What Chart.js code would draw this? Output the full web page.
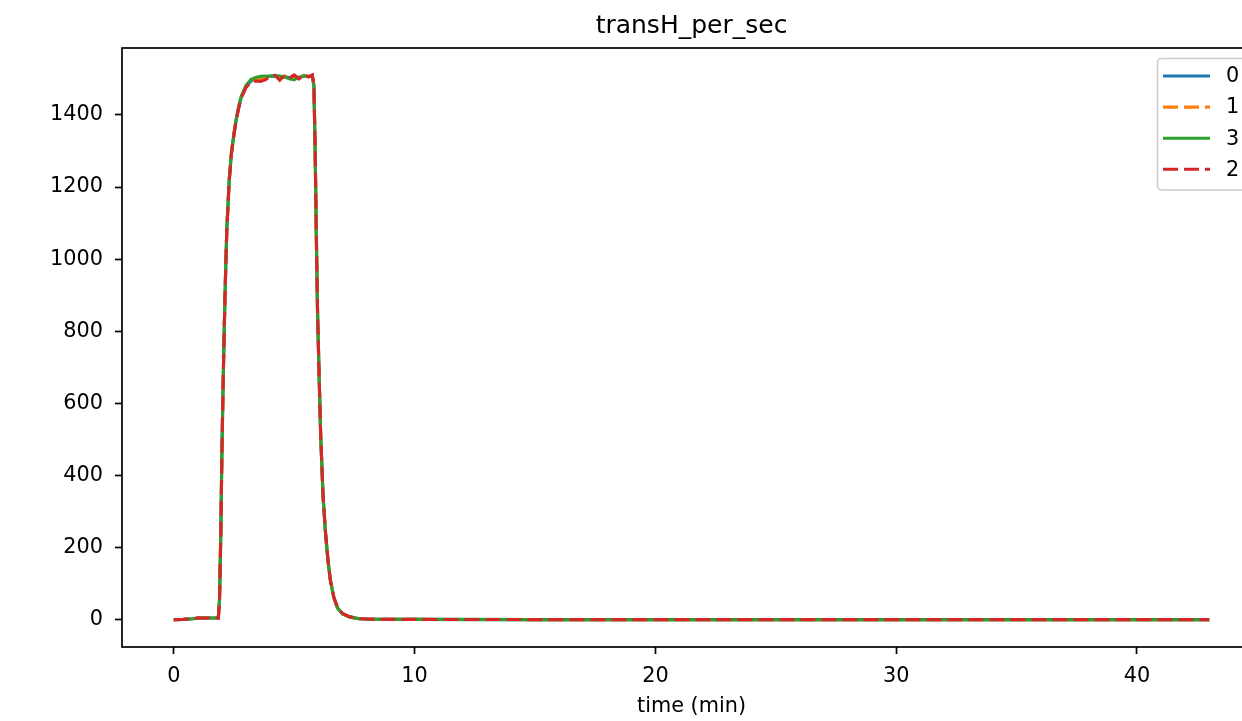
<!DOCTYPE html>
<html>
<head>
<meta charset="utf-8">
<script src="https://cdn.jsdelivr.net/npm/chart.js@4.4.0/dist/chart.umd.min.js"></script>
<style>
  html, body { margin: 0; padding: 0; background: #fff; overflow: hidden; }
  #wrap { width: 1381px; height: 721px; position: relative; }
</style>
</head>
<body>
<div id="wrap"><canvas id="chart"></canvas></div>
<script>
// time axis (minutes) shared by all runs
const timeMin = [0, 0.4, 0.8, 1.0, 1.5, 1.85,
  1.9, 1.95, 2.0, 2.05, 2.1, 2.15, 2.2,
  2.3, 2.4, 2.5, 2.6, 2.7, 2.8,
  3.0, 3.2, 3.4, 3.6, 3.8, 4.0,
  4.2, 4.4, 4.6, 4.8, 5.0, 5.2,
  5.4, 5.6, 5.75,
  5.82, 5.87, 5.92, 5.97, 6.03, 6.1,
  6.2, 6.3, 6.4, 6.5, 6.65, 6.8,
  7.0, 7.3, 7.7, 8.0,
  9, 10, 15, 20, 30, 43];

const run0 = [0, 1, 3, 5, 5, 5,
  58, 228, 468, 658, 818, 958, 1078,
  1216, 1296, 1346, 1389, 1421, 1448,
  1478, 1494, 1500, 1503, 1505, 1507,
  1508, 1503, 1507, 1503, 1508, 1503,
  1509, 1506, 1509,
  1482, 1305, 1065, 855, 692, 512,
  342, 242, 166, 111, 61, 33,
  17, 8, 3, 2,
  1, 1, 0.5, 0.5, 0.5, 0.5];

const run1 = [0, 1, 3, 5, 5, 5,
  57, 227, 467, 657, 817, 957, 1077,
  1217, 1297, 1347, 1390, 1422, 1449,
  1479, 1495, 1499, 1501, 1504, 1507,
  1509, 1500, 1508, 1503, 1509, 1502,
  1510, 1506, 1510,
  1483, 1307, 1067, 857, 693, 513,
  343, 243, 167, 111, 61, 34,
  17, 8, 3, 2,
  1, 1, 0.5, 0.5, 0.5, 0.5];

const run3 = [0, 1, 3, 5, 5, 5,
  60, 230, 470, 660, 820, 960, 1080,
  1220, 1300, 1350, 1392, 1425, 1452,
  1482, 1498, 1504, 1507, 1508, 1508,
  1509, 1508, 1505, 1500, 1497, 1504,
  1508, 1507, 1508,
  1480, 1300, 1060, 850, 690, 510,
  340, 240, 165, 110, 60, 33,
  17, 8, 3, 2,
  1, 1, 0.5, 0.5, 0.5, 0.5];

const run2 = [0, 1, 3, 5, 5, 5,
  55, 225, 465, 655, 815, 955, 1075,
  1215, 1295, 1345, 1388, 1420, 1447,
  1476, 1492, 1494, 1493, 1497, 1506,
  1510, 1496, 1510, 1502, 1511, 1500,
  1512, 1505, 1511,
  1485, 1310, 1070, 860, 695, 515,
  345, 245, 168, 112, 62, 34,
  18, 8, 3, 2,
  1, 1, 0.5, 0.5, 0.5, 0.5];

const xTicks = [0, 10, 20, 30, 40];
const yTicks = [0, 200, 400, 600, 800, 1000, 1200, 1400];

const FONT = 'DejaVu Sans';
const pts = arr => timeMin.map((t, i) => ({ x: t, y: arr[i] }));
const DASH = [15, 6];

// legend order as in the figure; 'order' controls draw stacking (red on top)
const datasets = [
  { label: '0', data: pts(run0), borderColor: '#1f77b4', borderDash: [], order: 4 },
  { label: '1', data: pts(run1), borderColor: '#ff7f0e', borderDash: DASH, order: 3 },
  { label: '3', data: pts(run3), borderColor: '#2ca02c', borderDash: [], order: 2 },
  { label: '2', data: pts(run2), borderColor: '#d62728', borderDash: DASH, order: 1 }
].map(d => ({ ...d, borderWidth: 3.1, pointRadius: 0, tension: 0, fill: false }));

// axes frame drawn over the lines like matplotlib spines
const frame = {
  id: 'frame',
  afterDatasetsDraw(chart) {
    const { ctx, chartArea: a } = chart;
    ctx.save();
    ctx.strokeStyle = '#000';
    ctx.lineWidth = 1.7;
    ctx.strokeRect(a.left, a.top, a.right - a.left, a.bottom - a.top);
    ctx.restore();
  }
};

// matplotlib style legend in the upper right corner
const mplLegend = {
  id: 'mplLegend',
  afterDraw(chart) {
    const { ctx } = chart;
    const x0 = 1157.5, y0 = 58.5, w = 93, h = 131.5, r = 4;
    ctx.save();
    ctx.beginPath();
    ctx.roundRect(x0, y0, w, h, r);
    ctx.fillStyle = 'rgba(255,255,255,0.8)';
    ctx.fill();
    ctx.strokeStyle = '#cccccc';
    ctx.lineWidth = 1.5;
    ctx.stroke();
    ctx.font = `20.8px "${FONT}"`;
    ctx.textBaseline = 'middle';
    ctx.textAlign = 'left';
    chart.data.datasets.forEach((d, i) => {
      const y = 76 + i * 31.1;
      ctx.beginPath();
      ctx.setLineDash(d.borderDash);
      ctx.strokeStyle = d.borderColor;
      ctx.lineWidth = 3.1;
      ctx.moveTo(1163, y);
      ctx.lineTo(1210, y);
      ctx.stroke();
      ctx.setLineDash([]);
      ctx.fillStyle = '#000';
      ctx.fillText(d.label, 1226, y + 1);
    });
    ctx.restore();
  }
};

new Chart(document.getElementById('chart'), {
  type: 'line',
  data: { datasets },
  plugins: [frame, mplLegend],
  options: {
    responsive: true,
    maintainAspectRatio: false,
    animation: false,
    layout: { padding: { left: 0, right: 120, top: 0, bottom: 0 } },
    plugins: {
      legend: { display: false },
      tooltip: { enabled: false },
      title: {
        display: true,
        fullSize: false,
        text: 'transH_per_sec',
        color: '#000',
        font: { family: FONT, size: 25, weight: 'normal' },
        padding: { top: 11, bottom: 7 }
      }
    },
    scales: {
      x: {
        type: 'linear',
        min: -2.15,
        max: 45.15,
        afterBuildTicks: s => { s.ticks = xTicks.map(v => ({ value: v })); },
        afterFit: s => { s.height = 74; },
        border: { display: false },
        grid: { drawOnChartArea: false, drawTicks: true, tickLength: 7, tickWidth: 1.7, tickColor: '#000' },
        ticks: { color: '#000', font: { family: FONT, size: 20.8 }, padding: 10, maxRotation: 0, callback: v => String(v) },
        title: {
          display: true,
          text: 'time (min)',
          color: '#000',
          font: { family: FONT, size: 20.8 },
          padding: { top: 0, bottom: 2 }
        }
      },
      y: {
        min: -75.5,
        max: 1585.5,
        afterBuildTicks: s => { s.ticks = yTicks.map(v => ({ value: v })); },
        afterFit: s => { s.width = 122; },
        border: { display: false },
        grid: { drawOnChartArea: false, drawTicks: true, tickLength: 7, tickWidth: 1.7, tickColor: '#000' },
        ticks: { color: '#000', font: { family: FONT, size: 20.8 }, padding: 12, callback: v => String(v) }
      }
    }
  }
});
</script>
</body>
</html>
